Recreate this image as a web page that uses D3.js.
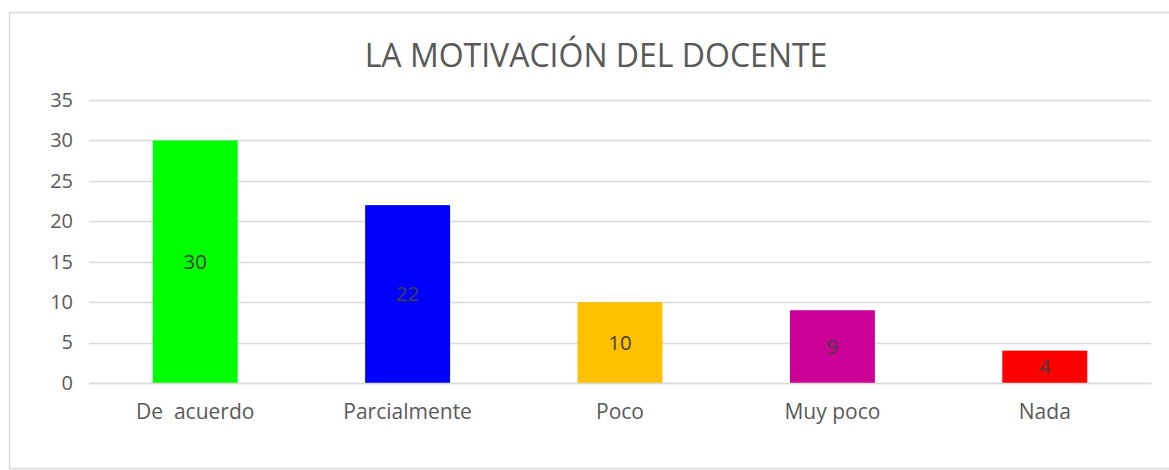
<!DOCTYPE html>
<html><head><meta charset="utf-8">
<script src="https://cdn.jsdelivr.net/npm/d3@7"></script>
<style>body{margin:0;background:#fff;}svg{display:block;font-family:"Open Sans",sans-serif;}text{white-space:pre;}</style>
</head><body>
<svg id="c" width="1169" height="470"></svg>
<script>
const categories = ["De  acuerdo", "Parcialmente", "Poco", "Muy poco", "Nada"];
const values = [30, 22, 10, 9, 4];
const colors = ["#00ff00", "#0000ff", "#ffc000", "#cc0099", "#ff0000"];
const yTicks = [0, 5, 10, 15, 20, 25, 30, 35];
const title = "LA MOTIVACIÓN DEL DOCENTE";

const svg = d3.select("#c");
svg.append("rect").attr("x", 9.5).attr("y", 12.5).attr("width", 1170).attr("height", 456)
  .attr("fill", "#fff").attr("stroke", "#d9d9d9").attr("stroke-width", 1.5);

const m = {l: 89, r: 1151, t: 100, b: 383};
const x = d3.scaleBand().domain(categories).range([m.l, m.r]).paddingInner(0.6).paddingOuter(0.3);
const y = d3.scaleLinear().domain([0, 35]).range([m.b, m.t]);

svg.append("g").selectAll("line").data(yTicks).join("line")
  .attr("x1", m.l).attr("x2", m.r)
  .attr("y1", d => Math.round(y(d)) + 0.5).attr("y2", d => Math.round(y(d)) + 0.5)
  .attr("stroke", "#d9d9d9").attr("stroke-width", 1.3);

const yAxis = svg.append("g").attr("transform", `translate(${m.l},0)`)
  .call(d3.axisLeft(y).tickValues(yTicks).tickSize(0).tickPadding(16))
  .attr("font-family", "'Open Sans', sans-serif");
yAxis.select(".domain").remove();
yAxis.selectAll("text").attr("fill", "#595959").style("font-size", "20px");

svg.append("g").selectAll("rect").data(values).join("rect")
  .attr("x", (d, i) => x(categories[i]))
  .attr("width", x.bandwidth())
  .attr("y", d => y(d))
  .attr("height", d => y(0) - y(d))
  .attr("fill", (d, i) => colors[i]);

svg.append("g").selectAll("text").data(values).join("text")
  .attr("x", (d, i) => x(categories[i]) + x.bandwidth() / 2)
  .attr("y", d => (y(d) + y(0)) / 2)
  .attr("dy", "0.35em").attr("text-anchor", "middle")
  .attr("fill", "#404040").style("font-size", "20.5px")
  .text(d => d);

const xAxis = svg.append("g").attr("transform", `translate(0,${m.b})`)
  .call(d3.axisBottom(x).tickSize(0).tickPadding(21))
  .attr("font-family", "'Open Sans', sans-serif");
xAxis.select(".domain").attr("stroke", "#d9d9d9").attr("stroke-width", 1.3);
xAxis.selectAll("text").attr("fill", "#595959").style("font-size", "21px");

svg.append("text").attr("x", 596).attr("y", 67).attr("text-anchor", "middle")
  .attr("fill", "#595959").style("font-size", "32px").text(title);
</script>
</body></html>
